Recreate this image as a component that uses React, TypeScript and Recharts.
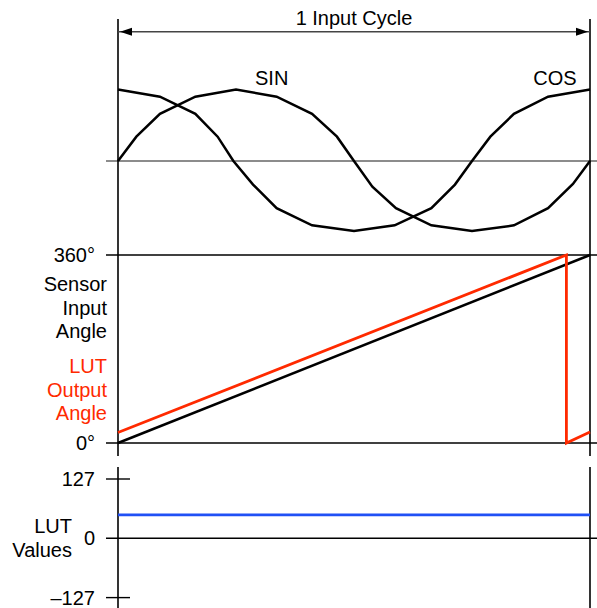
import { Label, Line, LineChart, ReferenceDot, ReferenceLine, XAxis, YAxis } from "recharts";

// top panel: sin / cos of the sensor, one input cycle (x in degrees)
const sinX = [0, 14, 32, 59, 90, 121, 148, 167, 180, 194, 212, 239, 270, 302, 328, 347, 360];
const sinY = [0, 0.34, 0.66, 0.9, 1, 0.9, 0.66, 0.34, 0, -0.36, -0.66, -0.9, -0.98, -0.9, -0.66, -0.32, 0];
const cosX = [0, 32, 59, 76, 88, 103, 121, 148, 180, 211, 239, 257, 270, 284, 302, 328, 360];
const cosY = [1, 0.9, 0.66, 0.34, 0, -0.33, -0.66, -0.9, -0.98, -0.9, -0.66, -0.33, 0, 0.34, 0.66, 0.9, 1];

// middle panel: input angle vs LUT output angle
const inputX = [0, 360];
const inputY = [0, 360];
const lutOutX = [0, 342, 342, 360];
const lutOutY = [20, 360, 0, 21];
const angleTicks = [0, 360];

// bottom panel: LUT values
const lutValX = [0, 360];
const lutValY = [50, 50];
const lutTicks = [-127, 0, 127];

const FONT = "'Liberation Sans', Arial, sans-serif";
const W = 597;
const H = 608;

const rows = (xs: number[], ys: number[]) => xs.map((x, i) => ({ x, v: ys[i] }));

// domain such that the plot band [top, bottom] puts zero at zeroPx
const bandDomain = (top: number, bottom: number, zeroPx: number, pxPerUnit: number) => [
  -(bottom - zeroPx) / pxPerUnit,
  (zeroPx - top) / pxPerUnit,
];

const PX_DEG = 472 / 360;
const xDomain = [-(118 - 106) / PX_DEG, 360 + (W - 590) / PX_DEG];

const waveDomain = bandDomain(19, 456, 161, 71.5);
const angleDomain = bandDomain(250, 456, 443, 188 / 360);
const lutDomain = bandDomain(467, H, 538.3, 59.3 / 127);

const ArrowLine = (p: any) => {
  const { x1, y1, x2, y2 } = p;
  return (
    <g>
      <line x1={x1} y1={y1} x2={x2} y2={y2} stroke="#444" strokeWidth={1.3} />
      <polygon points={`${x1 + 2},${y1} ${x1 + 14},${y1 - 4} ${x1 + 14},${y1 + 4}`} fill="#000" />
      <polygon points={`${x2 - 2},${y2} ${x2 - 14},${y2 - 4} ${x2 - 14},${y2 + 4}`} fill="#000" />
    </g>
  );
};

const tickStyle = { fontSize: 20, fill: "#000", fontFamily: FONT };
const layer = { position: "absolute" as const, left: 0, top: 0 };

export default function App() {
  return (
    <div style={{ position: "absolute", left: 0, top: 0, width: W, height: H, background: "#fff" }}>
      {/* top: sin / cos */}
      <div style={layer}>
        <LineChart width={W} height={H} margin={{ top: 19, right: 0, bottom: H - 456, left: 106 }}>
          <XAxis type="number" dataKey="x" domain={xDomain} hide allowDataOverflow />
          <YAxis type="number" domain={waveDomain} hide allowDataOverflow />
          <ReferenceLine y={0} stroke="#666" strokeWidth={1.3} />
          <ReferenceLine x={0} stroke="#000" strokeWidth={1.6} />
          <ReferenceLine x={360} stroke="#000" strokeWidth={1.6} />
          <ReferenceLine
            segment={[{ x: 0, y: 1.808 }, { x: 360, y: 1.808 }]}
            shape={ArrowLine}
            label={{ value: "1 Input Cycle", position: "top", offset: 7, fontSize: 20, fill: "#000", fontFamily: FONT }}
          />
          <ReferenceDot x={117.2} y={1.157} r={1} fill="none" stroke="none"
            label={{ value: "SIN", position: "center", fontSize: 20, fill: "#000", fontFamily: FONT }} />
          <ReferenceDot x={333.3} y={1.157} r={1} fill="none" stroke="none"
            label={{ value: "COS", position: "center", fontSize: 20, fill: "#000", fontFamily: FONT }} />
          <Line data={rows(sinX, sinY)} dataKey="v" type="linear" stroke="#000" strokeWidth={2.5} dot={false} isAnimationActive={false} />
          <Line data={rows(cosX, cosY)} dataKey="v" type="linear" stroke="#000" strokeWidth={2.5} dot={false} isAnimationActive={false} />
        </LineChart>
      </div>

      {/* middle: angles */}
      <div style={layer}>
        <LineChart width={W} height={H} margin={{ top: 250, right: 0, bottom: H - 456, left: 0 }}>
          <XAxis type="number" dataKey="x" domain={xDomain} hide allowDataOverflow />
          <YAxis type="number" domain={angleDomain} ticks={angleTicks} interval={0} width={106}
            tickFormatter={(v: number) => `${v}°`} axisLine={false} tickLine={false} tickSize={0} tickMargin={11}
            tick={tickStyle} allowDataOverflow>
            <Label
              content={() => (
                <text fontFamily={FONT} fontSize={20} textAnchor="end">
                  <tspan x={107} y={291} fill="#000">Sensor</tspan>
                  <tspan x={107} y={315} fill="#000">Input</tspan>
                  <tspan x={107} y={338} fill="#000">Angle</tspan>
                  <tspan x={107} y={373} fill="#ff2a00">LUT</tspan>
                  <tspan x={107} y={397} fill="#ff2a00">Output</tspan>
                  <tspan x={107} y={420} fill="#ff2a00">Angle</tspan>
                </text>
              )}
            />
          </YAxis>
          <ReferenceLine y={360} stroke="#000" strokeWidth={1.4} />
          <ReferenceLine y={0} stroke="#000" strokeWidth={1.4} />
          <Line data={rows(inputX, inputY)} dataKey="v" type="linear" stroke="#000" strokeWidth={2.6} dot={false} isAnimationActive={false} />
          <Line data={rows(lutOutX, lutOutY)} dataKey="v" type="linear" stroke="#ff2a00" strokeWidth={2.8} dot={false} isAnimationActive={false} />
        </LineChart>
      </div>

      {/* bottom: LUT values */}
      <div style={layer}>
        <LineChart width={W} height={H} margin={{ top: 467, right: 0, bottom: 0, left: 0 }}>
          <XAxis type="number" dataKey="x" domain={xDomain} hide allowDataOverflow />
          <YAxis type="number" domain={lutDomain} ticks={lutTicks} interval={0} width={106}
            tickFormatter={(v: number) => (v < 0 ? `\u2013${-v}` : `${v}`)} axisLine={false} tickLine={false}
            tickSize={0} tickMargin={11} tick={tickStyle} allowDataOverflow>
            <Label
              content={() => (
                <text fontFamily={FONT} fontSize={20} textAnchor="end" fill="#000">
                  <tspan x={72} y={533}>LUT</tspan>
                  <tspan x={72} y={557}>Values</tspan>
                </text>
              )}
            />
          </YAxis>
          <ReferenceLine x={0} stroke="#000" strokeWidth={1.6} />
          <ReferenceLine x={360} stroke="#000" strokeWidth={1.6} />
          <ReferenceLine y={0} stroke="#000" strokeWidth={1.4} />
          <ReferenceLine segment={[{ x: xDomain[0], y: 127 }, { x: 9.15, y: 127 }]} stroke="#000" strokeWidth={1.4} ifOverflow="visible" />
          <ReferenceLine segment={[{ x: xDomain[0], y: -127 }, { x: 9.15, y: -127 }]} stroke="#000" strokeWidth={1.4} ifOverflow="visible" />
          <Line data={rows(lutValX, lutValY)} dataKey="v" type="linear" stroke="#2050f5" strokeWidth={2.8} dot={false} isAnimationActive={false} />
        </LineChart>
      </div>
    </div>
  );
}
